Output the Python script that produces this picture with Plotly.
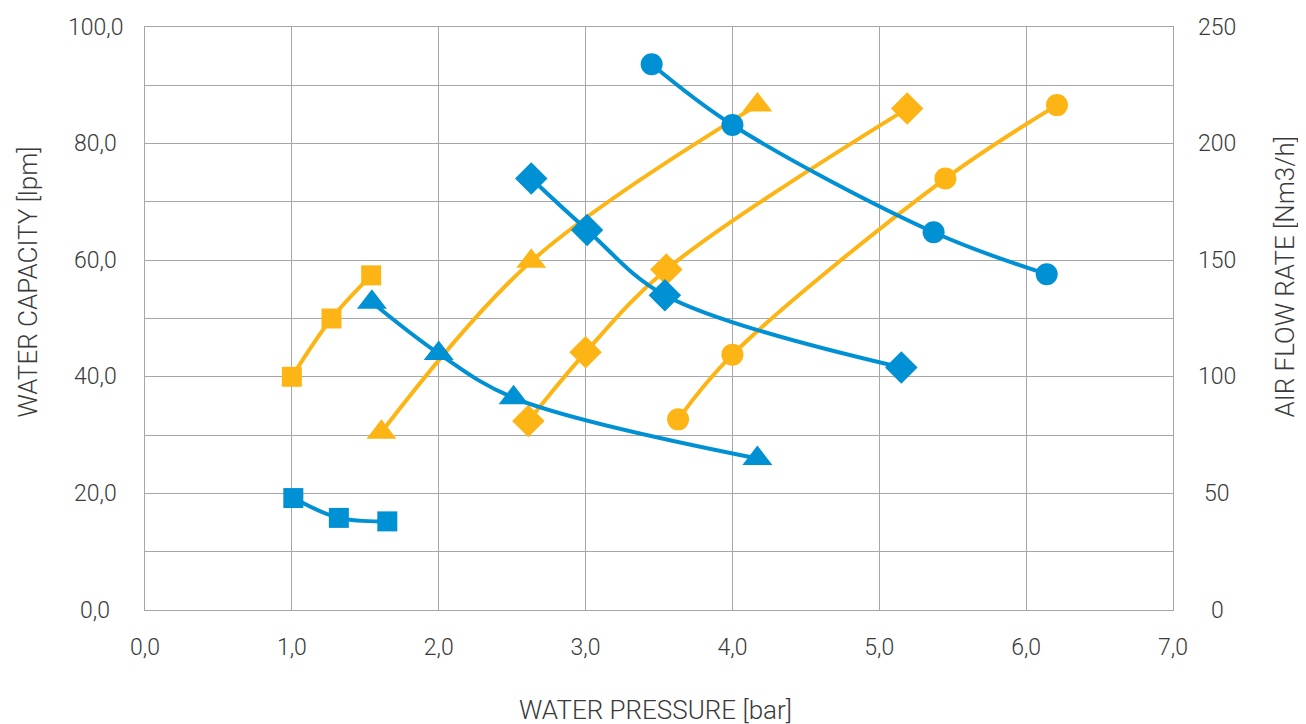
import plotly.graph_objects as go

# Water capacity [lpm] (left axis) - orange series
ws_x = [1.00, 1.27, 1.54]
ws_y = [40.0, 50.0, 57.4]
wt_x = [1.61, 2.63, 4.17]
wt_y = [30.5, 59.8, 86.6]
wd_x = [2.61, 3.00, 3.55, 5.19]
wd_y = [32.4, 44.2, 58.4, 86.0]
wc_x = [3.63, 4.00, 5.45, 6.21]
wc_y = [32.7, 43.8, 74.0, 86.6]

# Air flow rate [Nm3/h] (right axis) - blue series
as_x = [1.01, 1.32, 1.65]
as_y = [48.0, 39.5, 38.0]
at_x = [1.545, 2.00, 2.51, 4.17]
at_y = [132.0, 110.0, 91.0, 65.0]
ad_x = [2.63, 3.01, 3.54, 5.15]
ad_y = [185.0, 163.0, 135.0, 104.0]
ac_x = [3.45, 4.00, 5.37, 6.14]
ac_y = [234.0, 208.0, 162.0, 144.0]

x_ticks = [0, 1, 2, 3, 4, 5, 6, 7]
x_labels = ["0,0", "1,0", "2,0", "3,0", "4,0", "5,0", "6,0", "7,0"]
yl_ticks = [0, 20, 40, 60, 80, 100]
yl_labels = ["0,0", "20,0", "40,0", "60,0", "80,0", "100,0"]
yr_ticks = [0, 50, 100, 150, 200, 250]
yr_labels = ["0", "50", "100", "150", "200", "250"]

ORANGE = "#FDB515"
BLUE = "#0090D4"
TXT = "#3a3a3a"
GRID = "#a6a6a6"
FONT = "Roboto"

fig = go.Figure()

def add(x, y, color, symbol, size, yaxis):
    fig.add_trace(go.Scatter(
        x=x, y=y, mode="lines+markers", yaxis=yaxis,
        line=dict(color=color, width=4, shape="spline", smoothing=1.0),
        marker=dict(color=color, symbol=symbol, size=size),
        showlegend=False, hoverinfo="x+y"))

add(ws_x, ws_y, ORANGE, "square", 20, "y")
add(wt_x, wt_y, ORANGE, "triangle-up", 26, "y")
add(wd_x, wd_y, ORANGE, "diamond", 25, "y")
add(wc_x, wc_y, ORANGE, "circle", 22, "y")
add(as_x, as_y, BLUE, "square", 20, "y2")
add(at_x, at_y, BLUE, "triangle-up", 26, "y2")
add(ad_x, ad_y, BLUE, "diamond", 25, "y2")
add(ac_x, ac_y, BLUE, "circle", 22, "y2")

tickfont = dict(family=FONT, size=23, color=TXT, weight=300)
titlefont_h = dict(family=FONT, size=26, color=TXT, weight=300)
titlefont_v = dict(family=FONT, size=26, color=TXT, weight=300)

annotations = []
# y tick labels (centered, as in the reference)
for v, t in zip(yl_ticks, yl_labels):
    annotations.append(dict(xref="paper", yref="y", x=0, y=v, text=t,
                            showarrow=False, xanchor="center", yanchor="middle",
                            xshift=-50, font=tickfont))
for v, t in zip(yr_ticks, yr_labels):
    annotations.append(dict(xref="paper", yref="y2", x=1, y=v, text=t,
                            showarrow=False, xanchor="center", yanchor="middle",
                            xshift=44, font=tickfont))
# axis titles
annotations.append(dict(xref="paper", yref="paper", x=0.5, y=0, text="WATER PRESSURE [bar]",
                        showarrow=False, xanchor="center", yanchor="middle",
                        xshift=-4, yshift=-100, font=titlefont_h))
annotations.append(dict(xref="paper", yref="paper", x=0, y=0.5, text="WATER CAPACITY [lpm]",
                        showarrow=False, xanchor="center", yanchor="middle", textangle=-90,
                        xshift=-118, yshift=36, font=titlefont_v))
annotations.append(dict(xref="paper", yref="paper", x=1, y=0.5, text="AIR FLOW RATE [Nm3/h]",
                        showarrow=False, xanchor="center", yanchor="middle", textangle=-90,
                        xshift=111, yshift=42, font=titlefont_v))

fig.update_layout(
    width=1298, height=716,
    margin=dict(l=137, r=133, t=19, b=114),
    paper_bgcolor="white", plot_bgcolor="white",
    font=dict(family=FONT, color=TXT),
    annotations=annotations,
    xaxis=dict(
        range=[0, 7], tickvals=x_ticks, ticktext=x_labels,
        showgrid=True, gridcolor=GRID, gridwidth=1,
        showline=True, linecolor=GRID, linewidth=1, mirror=True,
        zeroline=False, ticks="", tickfont=tickfont, ticklabelstandoff=16,
    ),
    yaxis=dict(
        range=[0, 100], tickvals=yl_ticks, showticklabels=False,
        showgrid=True, gridcolor=GRID, gridwidth=1,
        minor=dict(dtick=10, showgrid=True, gridcolor=GRID, gridwidth=1),
        showline=True, linecolor=GRID, linewidth=1, mirror=True,
        zeroline=False, ticks="",
    ),
    yaxis2=dict(
        range=[0, 250], tickvals=yr_ticks, showticklabels=False,
        overlaying="y", side="right", showgrid=False, zeroline=False,
        showline=False, ticks="",
    ),
)

fig.write_html("out.html")
